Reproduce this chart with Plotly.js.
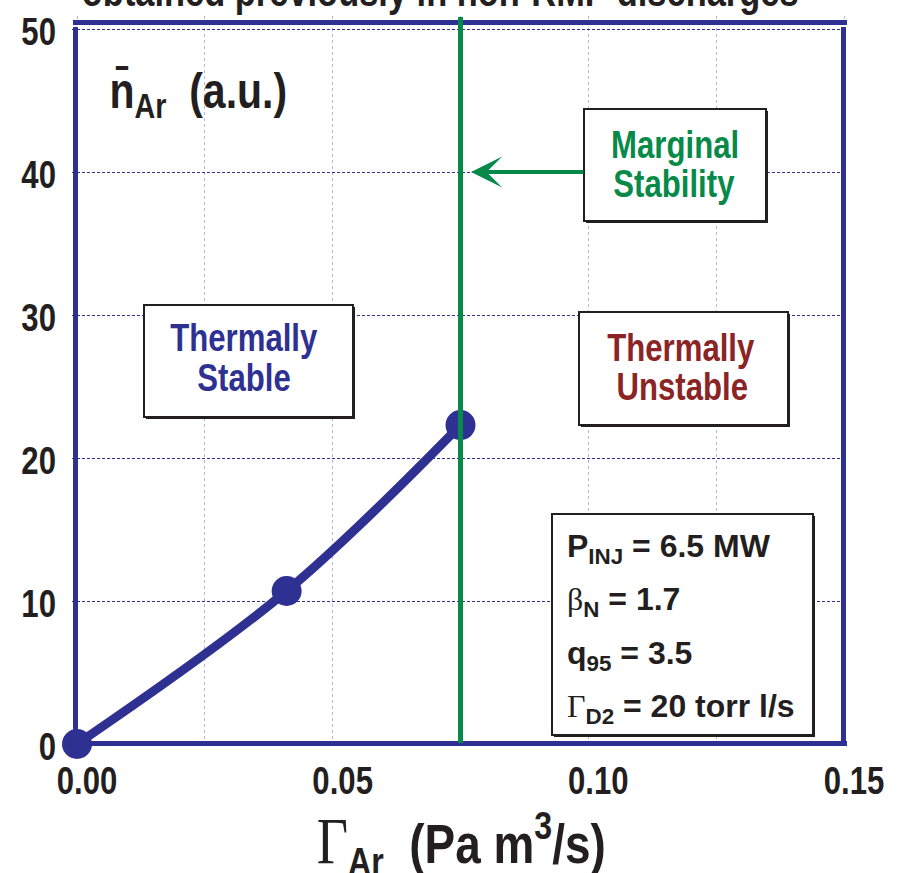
<!DOCTYPE html>
<html>
<head>
<meta charset="utf-8">
<script src="https://cdn.plot.ly/plotly-3.0.1.min.js"></script>
<style>
  html, body { margin: 0; padding: 0; background: #ffffff; }
  #chart { width: 901px; height: 873px; }
</style>
</head>
<body>
<div id="chart"></div>
<script>
// Argon puff rate vs. argon density, with the marginal-stability threshold
const gammaAr = [0, 0.041, 0.075];        // Pa m^3/s
const nAr = [0, 10.7, 22.3];              // a.u.
const marginalGamma = 0.075;              // threshold puff rate
const xTickVals = [0, 0.05, 0.10, 0.15];
const xTickText = ['0.00', '0.05', '0.10', '0.15'];
const yTickVals = [0, 10, 20, 30, 40, 50];
const xTitle = '<span style="font-family:\'Liberation Serif\';font-weight:normal;font-size:66px">Γ</span><sub>Ar</sub>\u00a0\u00a0(Pa m<sup>3</sup>/s)';
const yTitle = 'n\u0304<sub>Ar</sub>\u00a0\u00a0(a.u.)';
const paramLines = [
  'P<sub>INJ</sub> = 6.5 MW',
  '<span style="font-family:\'Liberation Serif\';font-weight:normal">β</span><sub>N</sub> = 1.7',
  'q<sub>95</sub> = 3.5',
  '<span style="font-family:\'Liberation Serif\';font-weight:normal">Γ</span><sub>D2</sub> = 20 torr l/s'
];

const NAVY = '#2e3192';
const GREEN = '#078a49';
const RED = '#8b2525';
const INK = '#231f20';
const FONT = "'Liberation Sans', Arial, sans-serif";
const NARROW = 0.82;   // horizontal squeeze that gives the condensed face

// page and frame geometry (pixels)
const W = 901, H = 873;
const M = { l: 72, r: 54, t: 16, b: 126 };
const plotW = W - M.l - M.r, plotH = H - M.t - M.b;
// data-to-pixel: x = 0 at 77 px, 0.15 at 844 px; y = 0 at 744 px, 50 at 29 px
const PXU = (844 - 77) / 0.15, PYU = (744 - 29) / 50;
const XR = [(M.l - 77) / PXU, 0.15 + (W - M.r - 844) / PXU];
const YR = [-(H - M.b - 744) / PYU, 50 + (29 - M.t) / PYU];
const px2x = p => XR[0] + (p - M.l) / PXU;
const py2y = p => YR[0] + (H - M.b - p) / PYU;
const px2paper = p => (p - M.l) / plotW;
const py2paper = p => (H - M.b - p) / plotH;

const shapes = [];
// frame: heavy navy rules, under the markers but over the grid
const frame = (x0, y0, x1, y1) => shapes.push({
  type: 'line', xref: 'x', yref: 'y', layer: 'between',
  x0: px2x(x0), y0: py2y(y0), x1: px2x(x1), y1: py2y(y1),
  line: { color: NAVY, width: 5 }
});
frame(73, 22.5, 847, 22.5);   // top rule
frame(75.5, 27, 75.5, 746);   // left
frame(843.5, 27, 843.5, 746); // right
frame(73, 743.5, 847, 743.5); // bottom

// threshold line, drawn over the last point
shapes.push({
  type: 'line', xref: 'x', yref: 'y', layer: 'above',
  x0: marginalGamma, x1: marginalGamma, y0: py2y(743), y1: py2y(17),
  line: { color: GREEN, width: 5 }
});

// label boxes with a drop shadow on the lower-right
function box(l, t, r, b) {
  shapes.push({
    type: 'rect', xref: 'x', yref: 'y', layer: 'above',
    x0: px2x(l + 2), y0: py2y(t + 2), x1: px2x(r + 2), y1: py2y(b + 2),
    fillcolor: INK, line: { width: 0 }
  });
  shapes.push({
    type: 'rect', xref: 'x', yref: 'y', layer: 'above',
    x0: px2x(l), y0: py2y(t), x1: px2x(r), y1: py2y(b),
    fillcolor: '#ffffff', line: { color: INK, width: 2 }
  });
}
box(144, 305, 353, 417);
box(579, 312, 788, 425);
box(584, 109, 766, 221);
box(552, 514, 813, 735);

const annotations = [];
const wide = new Set();   // annotation indices kept at full width
const label = (text, cx, cy, color, size, anchor, keepWidth) => {
  if (keepWidth) wide.add(annotations.length);
  annotations.push({
    xref: 'paper', yref: 'paper', x: px2paper(cx), y: py2paper(cy),
    xanchor: anchor || 'center', yanchor: 'middle', showarrow: false,
    text: text, font: { family: FONT, size: size, color: color, weight: 'bold' }
  });
};

label('Thermally', 244, 338, NAVY, 38);
label('Stable', 244, 378, NAVY, 38);
label('Thermally', 681, 348, RED, 38);
label('Unstable', 682, 387, RED, 38);
label('Marginal', 675, 145, GREEN, 38);
label('Stability', 674, 184, GREEN, 38);

const paramY = [548, 601, 655, 708];
paramLines.forEach((t, i) => label(t, 565, paramY[i], INK, 32, 'left', true));

// axis quantities: y inside the frame, x below the tick labels
label(yTitle, 88, 95, INK, 50, 'left');
label(xTitle, 462, 843, INK, 56);

// heading running off the top edge
label('obtained previously in non-RMP discharges', 440, -8, INK, 42);

// arrow from the marginal-stability box to the threshold line
annotations.push({
  xref: 'x', yref: 'y', axref: 'x', ayref: 'y',
  x: px2x(471), y: py2y(172), ax: px2x(585), ay: py2y(172),
  text: '', showarrow: true, arrowhead: 3, arrowsize: 1.3, arrowwidth: 4,
  arrowcolor: GREEN, standoff: 0, startstandoff: 0
});

const trace = {
  type: 'scatter', mode: 'lines+markers',
  x: gammaAr, y: nAr,
  line: { color: NAVY, width: 9, shape: 'spline', smoothing: 1 },
  marker: { color: NAVY, size: 30 },
  cliponaxis: false, hoverinfo: 'skip'
};

const layout = {
  width: W, height: H,
  margin: M,
  paper_bgcolor: '#ffffff', plot_bgcolor: '#ffffff',
  showlegend: false,
  font: { family: FONT, color: INK },
  xaxis: {
    range: XR, showline: false, zeroline: false,
    tickvals: xTickVals, ticktext: xTickText, ticks: '',
    ticklabelshift: 10, ticklabelstandoff: 8,
    tickfont: { family: FONT, size: 38, color: INK, weight: 'bold' },
    showgrid: true, gridcolor: '#b4b4dc', gridwidth: 1, griddash: 'dot',
    minor: { dtick: 0.025, tick0: 0, showgrid: true, gridcolor: '#b4b4dc', gridwidth: 1, griddash: 'dot' }
  },
  yaxis: {
    range: YR, showline: false, zeroline: false,
    tickvals: yTickVals, ticks: '', ticklabelstandoff: 15, ticklabelshift: 3,
    tickfont: { family: FONT, size: 38, color: INK, weight: 'bold' },
    showgrid: true, gridcolor: NAVY, gridwidth: 1, griddash: '3px,2px'
  },
  shapes: shapes,
  annotations: annotations
};

// squeeze each text horizontally about its anchor point (condensed bold look)
function condense(gd) {
  gd.querySelectorAll('svg text').forEach(el => {
    const g = el.closest('g.annotation');
    if (g && wide.has(+g.getAttribute('data-index'))) return;
    if (!el.textContent.trim()) return;
    const bb = el.getBBox();
    const anchor = el.getAttribute('text-anchor') || 'start';
    const ax = anchor === 'middle' ? bb.x + bb.width / 2
             : anchor === 'end' ? bb.x + bb.width : bb.x;
    const prev = el.getAttribute('transform') || '';
    el.setAttribute('transform',
      (prev + ' translate(' + ax + ',0) scale(' + NARROW + ',1) translate(' + (-ax) + ',0)').trim());
  });
}

const gd = document.getElementById('chart');
Plotly.newPlot(gd, [trace], layout, { staticPlot: true, displayModeBar: false })
  .then(() => condense(gd));
</script>
</body>
</html>
